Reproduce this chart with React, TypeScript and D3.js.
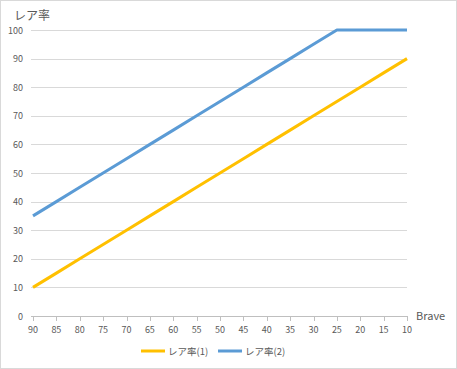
import React from "react";
import * as d3 from "d3";

const categories = [90, 85, 80, 75, 70, 65, 60, 55, 50, 45, 40, 35, 30, 25, 20, 15, 10];
const series1 = [10, 15, 20, 25, 30, 35, 40, 45, 50, 55, 60, 65, 70, 75, 80, 85, 90];
const series2 = [35, 40, 45, 50, 55, 60, 65, 70, 75, 80, 85, 90, 95, 100, 100, 100, 100];
const yTicks = [0, 10, 20, 30, 40, 50, 60, 70, 80, 90, 100];
const seriesNames = ["レア率(1)", "レア率(2)"];
const colors = ["#FFC000", "#5B9BD5"];

const W = 457, H = 369;
const font = "'Noto Sans CJK JP', 'Noto Sans', sans-serif";

export default function App() {
  const x = d3.scalePoint<number>().domain(categories).range([33, 407]);
  const y = d3.scaleLinear().domain([0, 100]).range([316, 30]);
  const line = d3.line<number>().x((_, i) => x(categories[i])!).y(d => y(d));
  const all = [series1, series2];
  return (
    <svg width={W} height={H} style={{ position: "absolute", left: 0, top: 0 }}>
      <rect x={0.5} y={0.5} width={W - 1} height={H - 1} fill="#fff" stroke="#d9d9d9" />
      <text x={14} y={20} fontFamily={font} fontSize={12} fill="#595959">レア率</text>
      {yTicks.map(t => (
        <g key={t}>
          {t > 0 && <line x1={31} x2={407} y1={Math.round(y(t)) + 0.5} y2={Math.round(y(t)) + 0.5} stroke="#d9d9d9" />}
          <text x={23} y={y(t) + 3.5} textAnchor="end" fontFamily={font} fontSize={9} fill="#595959">{t}</text>
        </g>
      ))}
      <line x1={31} x2={407} y1={316.5} y2={316.5} stroke="#bfbfbf" />
      {categories.map(c => (
        <g key={c}>
          <line x1={Math.round(x(c)!) + 0.5} x2={Math.round(x(c)!) + 0.5} y1={316} y2={321} stroke="#bfbfbf" />
          <text x={x(c)!} y={333} textAnchor="middle" fontFamily={font} fontSize={9} fill="#595959">{c}</text>
        </g>
      ))}
      <text x={416} y={320} fontFamily={font} fontSize={11} fill="#595959">Brave</text>
      {all.map((s, i) => (
        <path key={i} d={line(s)!} fill="none" stroke={colors[i]} strokeWidth={3} strokeLinejoin="round" />
      ))}
      {seriesNames.map((n, i) => {
        const lx = 141 + i * 77;
        return (
          <g key={n}>
            <line x1={lx} x2={lx + 24} y1={351} y2={351} stroke={colors[i]} strokeWidth={3} />
            <text x={lx + 27} y={355} fontFamily={font} fontSize={9.5} fill="#595959">{n}</text>
          </g>
        );
      })}
    </svg>
  );
}
